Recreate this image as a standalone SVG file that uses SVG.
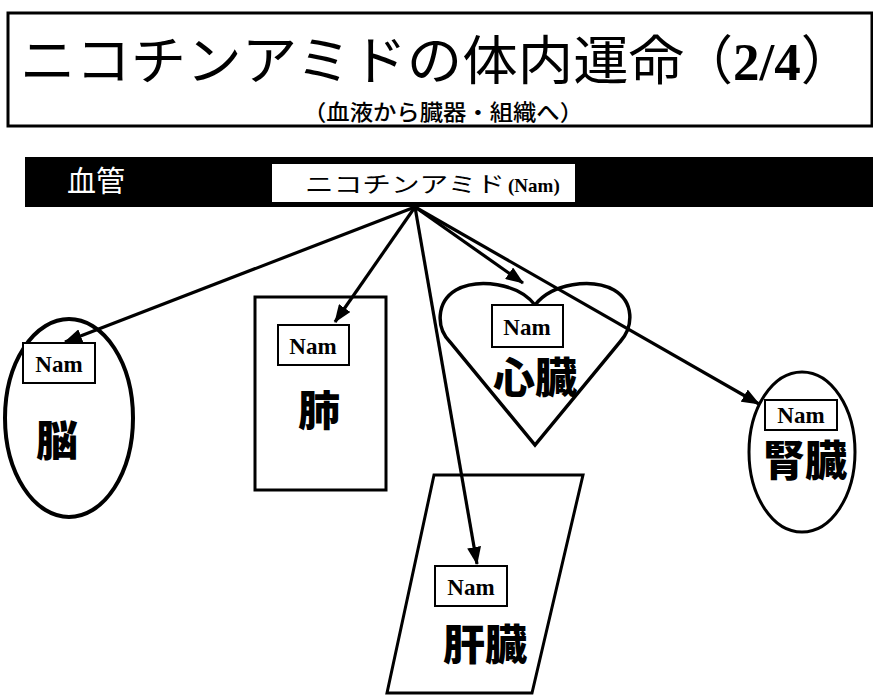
<svg xmlns="http://www.w3.org/2000/svg" width="873" height="695" viewBox="0 0 873 695">
<defs>
<style>
.jp{font-family:"Noto Sans CJK JP","Noto Sans CJK SC",sans-serif;}
.org{font-family:"Noto Sans CJK JP","Noto Sans CJK SC",sans-serif;font-weight:900;font-size:42px;text-anchor:middle;fill:#000;}
.nam{font-family:"Liberation Serif",serif;font-weight:bold;font-size:23px;text-anchor:middle;fill:#000;}
.nbox{fill:#fff;stroke:#000;stroke-width:2;}
.shape{fill:#fff;stroke:#000;}
.conn{stroke:#000;stroke-width:3.2;fill:none;marker-end:url(#ah);}
</style>
<marker id="ah" markerUnits="userSpaceOnUse" markerWidth="18" markerHeight="14" refX="17" refY="7" orient="auto">
<path d="M0,0 L18,7 L0,14 Z" fill="#000"/>
</marker>
</defs>
<rect width="873" height="695" fill="#fff"/>

<g id="title">
<rect x="8" y="13" width="864" height="113" fill="#fff" stroke="#000" stroke-width="3"/>
<text class="jp" y="80" font-size="53"><tspan x="20" textLength="664" lengthAdjust="spacingAndGlyphs">ニコチンアミドの体内運命</tspan><tspan dx="-4">（</tspan><tspan font-family="Liberation Serif,serif" font-weight="bold">2/4</tspan><tspan>）</tspan></text>
<text class="jp" x="303" y="120" font-size="22" font-weight="500" textLength="280" lengthAdjust="spacingAndGlyphs">（血液から臓器・組織へ）</text>
</g>

<g id="vessel">
<rect x="25" y="157" width="860" height="50" fill="#000"/>
<text class="jp" x="67" y="192" font-size="29" fill="#fff">血管</text>
<rect x="272" y="164" width="303" height="38" fill="#fff"/>
<text class="jp" y="192" font-size="22"><tspan x="305" textLength="200" lengthAdjust="spacingAndGlyphs">ニコチンアミド</tspan><tspan x="508" font-family="Liberation Serif,serif" font-weight="bold" font-size="19">(Nam)</tspan></text>
</g>

<g id="brain">
<ellipse class="shape" cx="69" cy="418" rx="64" ry="99" stroke-width="4"/>
<rect class="nbox" x="23" y="343" width="72" height="40"/>
<text class="nam" x="59" y="372">Nam</text>
<text class="org" x="57" y="456">脳</text>
</g>

<g id="lung">
<rect class="shape" x="255" y="297" width="131" height="193" stroke-width="3"/>
<rect class="nbox" x="278" y="325" width="71" height="40"/>
<text class="nam" x="313" y="354">Nam</text>
<text class="org" x="319" y="426">肺</text>
</g>

<g id="heart">
<path class="shape" stroke-width="3.5" d="M535,305 C518,283 478,278 456,290 C436,302 436,328 450,342 L535,445 L620,342 C634,326 634,302 614,290 C592,278 552,283 535,305 Z"/>
<rect class="nbox" x="492" y="305" width="71" height="42"/>
<text class="nam" x="527" y="335">Nam</text>
<text class="org" x="535" y="393">心臓</text>
</g>

<g id="kidney">
<ellipse class="shape" cx="802" cy="452" rx="53" ry="80" stroke-width="3"/>
<rect class="nbox" x="765" y="400" width="72" height="30"/>
<text class="nam" x="801" y="423">Nam</text>
<text class="org" x="805" y="476" font-size="40">腎臓</text>
</g>

<g id="liver">
<polygon class="shape" stroke-width="3" points="434,475 583,475 532,693 387,693"/>
<rect class="nbox" x="435" y="566" width="72" height="40"/>
<text class="nam" x="471" y="595">Nam</text>
<text class="org" x="485" y="660">肝臓</text>
</g>

<g id="connectors">
<line class="conn" x1="415" y1="207" x2="65" y2="342"/>
<line class="conn" x1="415" y1="207" x2="335" y2="322"/>
<line class="conn" x1="415" y1="207" x2="477" y2="564"/>
<line class="conn" x1="415" y1="207" x2="523" y2="283"/>
<line class="conn" x1="415" y1="207" x2="759" y2="404"/>
</g>
</svg>
